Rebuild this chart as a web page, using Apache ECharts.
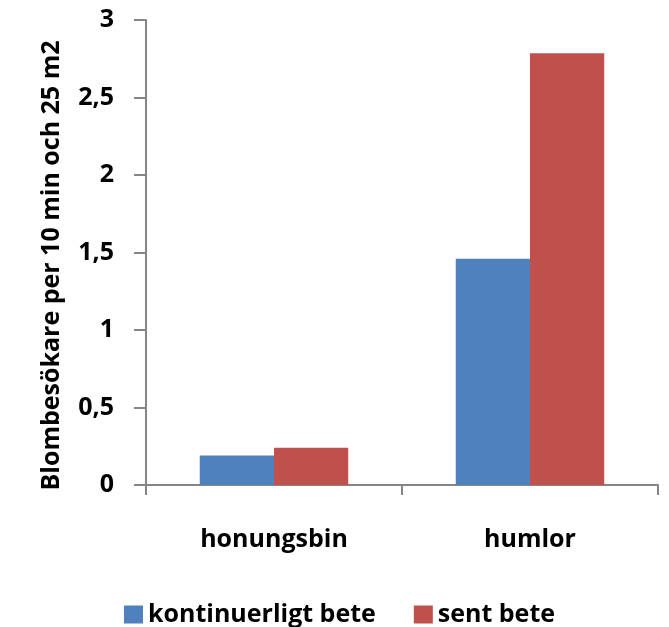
<!DOCTYPE html>
<html><head><meta charset="utf-8">
<script src="https://cdn.jsdelivr.net/npm/echarts@6/dist/echarts.min.js"></script>
<style>html,body{margin:0;padding:0;background:#fff}#c{width:669px;height:627px}</style>
</head><body><div id="c"></div>
<script>
const categories = ["honungsbin", "humlor"];
const kontinuerligt = [0.19, 1.46];
const sent = [0.24, 2.785];
const seriesNames = ["kontinuerligt bete", "sent bete"];
const yName = "Blombesökare per 10 min och 25 m2";

const font = "Open Sans";
const fw = "bold";
const fs = 25;
const chart = echarts.init(document.getElementById('c'));
chart.setOption({
  animation: false,
  textStyle: {fontFamily: font},
  grid: {left: 146, right: 11, top: 20, bottom: 142, containLabel: false},
  legend: {
    top: 597, left: 119, itemWidth: 19, itemHeight: 18, itemGap: 38,
    icon: 'rect',
    textStyle: {fontFamily: font, fontSize: fs, fontWeight: fw, color: '#000'},
    data: seriesNames
  },
  xAxis: {
    type: 'category', data: categories,
    axisLine: {lineStyle: {color: '#868686', width: 2}},
    axisTick: {show: true, length: 10, lineStyle: {color: '#868686', width: 2}},
    axisLabel: {fontFamily: font, fontSize: fs, fontWeight: fw, color: '#000', margin: 42}
  },
  yAxis: {
    type: 'value', min: 0, max: 3, interval: 0.5,
    name: yName, nameLocation: 'middle', nameRotate: 90, nameGap: 82,
    nameTextStyle: {fontFamily: font, fontSize: fs, fontWeight: fw, color: '#000', padding: [0, 26, 0, 0]},
    axisLine: {show: true, lineStyle: {color: '#868686', width: 2}},
    axisTick: {show: true, length: 12, lineStyle: {color: '#868686', width: 2}},
    splitLine: {show: false},
    axisLabel: {fontFamily: font, fontSize: fs, fontWeight: fw, color: '#000', margin: 32,
      formatter: v => String(v).replace('.', ',')}
  },
  series: [
    {name: seriesNames[0], type: 'bar', data: kontinuerligt, barGap: '0%', barCategoryGap: '42%',
     itemStyle: {color: '#4F81BD'}},
    {name: seriesNames[1], type: 'bar', data: sent, barGap: '0%', barCategoryGap: '42%',
     itemStyle: {color: '#C0504D'}}
  ]
});
</script></body></html>
